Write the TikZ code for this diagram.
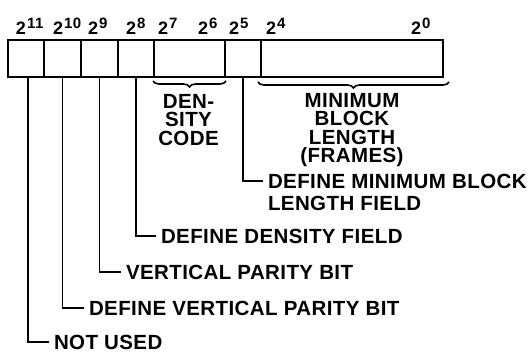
\documentclass[tikz,border=0pt]{standalone}
\usepackage{fontspec}
\setmainfont{Liberation Sans}[LetterSpace=2.0]
\usetikzlibrary{decorations.pathreplacing}
\newcommand\bitpow[1]{2\kern1.2pt\raisebox{6.5pt}{\fontsize{15}{15}\selectfont #1}}
\begin{document}
\begin{tikzpicture}[x=1pt,y=-1pt,line width=2pt,
  cell/.style={draw,anchor=north west,minimum height=36.5pt,inner sep=0pt},
  lbl/.style={font=\fontsize{20.5}{22}\selectfont\bfseries,anchor=west,inner xsep=4pt,inner ysep=0pt},
  stack/.style={font=\fontsize{20.5}{18.5}\selectfont\bfseries,align=center,anchor=north,inner sep=0pt},
  expo/.style={font=\fontsize{18}{18}\selectfont\bfseries,anchor=base west,inner sep=0pt},
  lead/.style={line width=1.9pt},
  brc/.style={decorate,decoration={brace,amplitude=6pt,mirror},line width=1.6pt}]
\useasboundingbox[fill=white] (0,0) rectangle (532,352);
% register cells
\node[cell,minimum width=36pt]  (b11) at (7,39.5) {};
\node[cell,minimum width=37pt]  (b10) at (43,39.5) {};
\node[cell,minimum width=37pt]  (b9)  at (80,39.5) {};
\node[cell,minimum width=36pt]  (b8)  at (117,39.5) {};
\node[cell,minimum width=71pt]  (b76) at (153,39.5) {};
\node[cell,minimum width=36pt]  (b5)  at (224,39.5) {};
\node[cell,minimum width=182pt] (b40) at (260,39.5) {};
% bit weights
\node[expo] (e11) at (15,35)  {\bitpow{11}};
\node[expo] (e10) at (52,35)  {\bitpow{10}};
\node[expo] (e9)  at (87,35)  {\bitpow{9}};
\node[expo] (e8)  at (125,35) {\bitpow{8}};
\node[expo] (e7)  at (157,35) {\bitpow{7}};
\node[expo] (e6)  at (197,35) {\bitpow{6}};
\node[expo] (e5)  at (228,35) {\bitpow{5}};
\node[expo] (e4)  at (265,35) {\bitpow{4}};
\node[expo] (e0)  at (410,35) {\bitpow{0}};
% braces and field names
\draw[brc] ([yshift=-3pt]b76.south west) -- ([yshift=-3pt]b76.south east);
\draw[brc] ([xshift=-2pt,yshift=-4pt]b40.south west) -- ([xshift=5pt,yshift=-4pt]b40.south east);
\node[stack] (dc)  at (188.5,93) {DEN-\\SITY\\CODE};
\node[stack] (mbl) at (352,92)   {MINIMUM\\BLOCK\\LENGTH\\(FRAMES)};
% leader labels
\node[lbl] (dmb1) at (263,181) {DEFINE MINIMUM BLOCK};
\node[lbl] (dmb2) at (263,203) {LENGTH FIELD};
\node[lbl] (ddf)  at (156,236) {DEFINE DENSITY FIELD};
\node[lbl] (vpb)  at (121,272) {VERTICAL PARITY BIT};
\node[lbl] (dvpb) at (84,308)  {DEFINE VERTICAL PARITY BIT};
\node[lbl] (nu)   at (49,342)  {NOT USED};
\draw[lead] (b5.south) |- (dmb1.west);
\draw[lead] (b8.south) |- (ddf.west);
\draw[lead] (b9.south) |- (vpb.west);
\draw[lead] (b10.south) |- (dvpb.west);
\draw[lead] ([xshift=2pt]b11.south) |- (nu.west);
\end{tikzpicture}
\end{document}
